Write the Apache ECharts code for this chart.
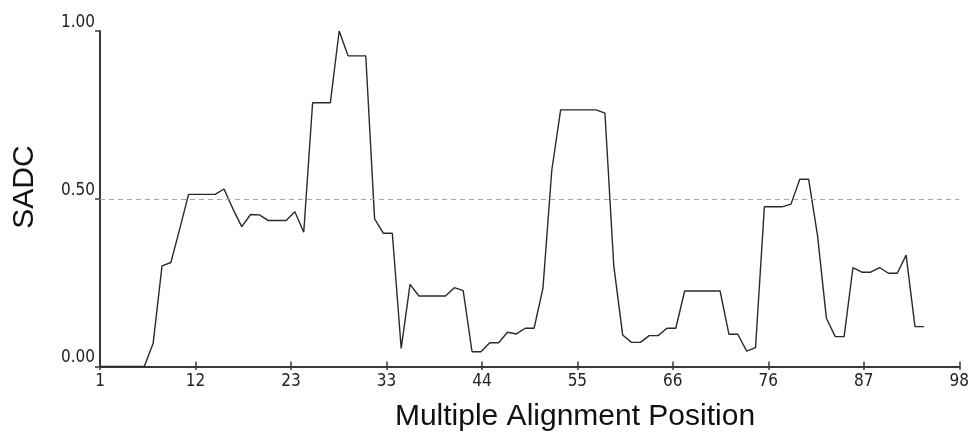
<!DOCTYPE html>
<html>
<head>
<meta charset="utf-8">
<script src="https://cdn.jsdelivr.net/npm/echarts@6/dist/echarts.min.js"></script>
<style>
  html, body { margin: 0; padding: 0; background: #fff; }
  #chart { width: 972px; height: 440px; }
</style>
</head>
<body>
<div id="chart"></div>
<script>
// SADC profile, one value per alignment position (1..94)
const sadcValues = [
  0, 0, 0, 0, 0, 0, 0.069, 0.30, 0.31, 0.41,
  0.513, 0.513, 0.513, 0.513, 0.529, 0.47, 0.417, 0.453, 0.452, 0.435,
  0.435, 0.435, 0.461, 0.40, 0.786, 0.786, 0.786, 1.0, 0.926, 0.926,
  0.926, 0.44, 0.397, 0.397, 0.054, 0.245, 0.21, 0.21, 0.21, 0.21,
  0.235, 0.226, 0.044, 0.044, 0.071, 0.071, 0.102, 0.097, 0.114, 0.114,
  0.233, 0.585, 0.765, 0.765, 0.765, 0.765, 0.765, 0.755, 0.30, 0.094,
  0.072, 0.072, 0.092, 0.092, 0.114, 0.114, 0.225, 0.225, 0.225, 0.225,
  0.225, 0.096, 0.096, 0.046, 0.056, 0.476, 0.476, 0.476, 0.484, 0.558,
  0.558, 0.39, 0.144, 0.089, 0.089, 0.295, 0.281, 0.281, 0.295, 0.278,
  0.278, 0.332, 0.119, 0.119
];
const positions = sadcValues.map((_, i) => i + 1);

const xTickLabels = ['1', '12', '23', '33', '44', '55', '66', '76', '87', '98'];
const xMin = 1;
const xMax = 98;
// ticks are evenly spaced between min and max, labels are the rounded positions
const xTickValues = xTickLabels.map((_, k) => xMin + k * (xMax - xMin) / (xTickLabels.length - 1));
const yTickValues = [0, 0.5, 1];
const thresholdValue = 0.5;

const tickFont = "'Liberation Sans Narrow', 'DejaVu Sans Condensed', sans-serif";
const titleFont = "'Liberation Sans', Arial, sans-serif";

const chart = echarts.init(document.getElementById('chart'));

const option = {
  animation: false,
  backgroundColor: '#fff',
  grid: { left: 100, right: 7, top: 31, bottom: 73.5 },
  xAxis: [
    {
      type: 'value',
      min: xMin,
      max: xMax,
      position: 'bottom',
      axisLine: { show: true, lineStyle: { color: '#3a3a3a', width: 2 } },
      axisTick: { show: true, inside: true, length: 5, customValues: xTickValues, lineStyle: { color: '#3a3a3a', width: 1.5 } },
      axisLabel: {
        customValues: xTickValues,
        formatter: (v) => xTickLabels[xTickValues.findIndex((t) => Math.abs(t - v) < 1e-6)] ?? '',
        margin: 7,
        fontSize: 17,
        fontFamily: tickFont,
        color: '#222',
      },
      splitLine: { show: false },
    },
    {
      type: 'value',
      min: xMin,
      max: xMax,
      position: 'bottom',
      axisLine: { show: false },
      axisTick: { show: true, inside: false, length: 3.5, customValues: xTickValues, lineStyle: { color: '#3a3a3a', width: 1.5 } },
      axisLabel: { show: false },
      splitLine: { show: false },
    },
  ],
  yAxis: {
    type: 'value',
    min: 0,
    max: 1,
    axisLine: { show: true, lineStyle: { color: '#3a3a3a', width: 2 } },
    axisTick: { show: true, length: 5, customValues: yTickValues, lineStyle: { color: '#3a3a3a', width: 1.5 } },
    axisLabel: {
      customValues: yTickValues,
      formatter: (v) => v.toFixed(2),
      verticalAlign: 'bottom',
      margin: 5,
      fontSize: 17,
      fontFamily: tickFont,
      color: '#222',
    },
    splitLine: { show: false },
  },
  graphic: [
    {
      type: 'text',
      x: 25,
      y: 187,
      rotation: Math.PI / 2,
      style: {
        text: 'SADC',
        fontSize: 30,
        fontFamily: titleFont,
        fill: '#111',
        align: 'center',
        verticalAlign: 'middle',
      },
    },
    {
      type: 'text',
      x: 575,
      y: 417,
      style: {
        text: 'Multiple Alignment Position',
        fontSize: 30,
        fontFamily: titleFont,
        fill: '#111',
        align: 'center',
        verticalAlign: 'middle',
      },
    },
  ],
  series: [
    {
      type: 'line',
      xAxisIndex: 0,
      data: positions.map((p, i) => [p, sadcValues[i]]),
      showSymbol: false,
      symbol: 'none',
      lineStyle: { color: '#2a2a2a', width: 1.4 },
      markLine: {
        silent: true,
        symbol: 'none',
        label: { show: false },
        lineStyle: { color: '#a8a8a8', type: [5, 4], width: 1 },
        data: [{ yAxis: thresholdValue }],
      },
    },
  ],
};

chart.setOption(option);
</script>
</body>
</html>
